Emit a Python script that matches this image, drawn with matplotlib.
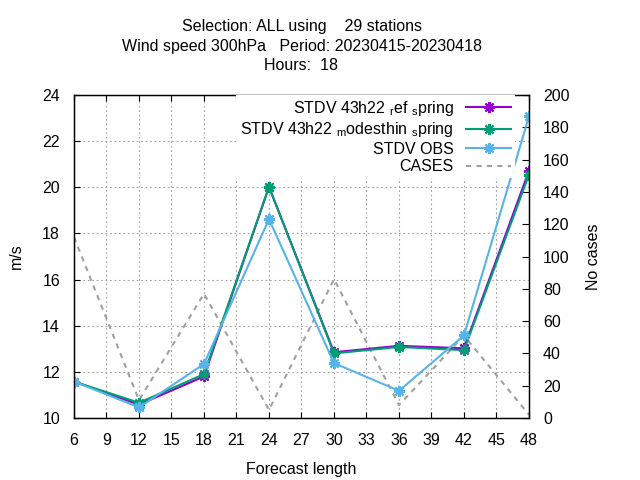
import matplotlib
matplotlib.use("Agg")
import matplotlib.pyplot as plt

plt.rcParams['font.family'] = ['Liberation Sans', 'DejaVu Sans']
plt.rcParams['mathtext.fontset'] = 'custom'
plt.rcParams['mathtext.rm'] = 'Liberation Sans'
plt.rcParams['mathtext.it'] = 'Liberation Sans'

lead = [6, 12, 18, 24, 30, 36, 42, 48]
ref_spring = [11.58, 10.58, 11.80, 20.02, 12.85, 13.13, 13.02, 20.72]
modes_spring = [11.58, 10.66, 11.90, 20.02, 12.80, 13.08, 12.94, 20.55]
obs = [11.58, 10.46, 12.34, 18.62, 12.38, 11.18, 13.58, 23.08]
cases = [112, 11, 77, 5, 86, 8, 51, 2]

xticks = list(range(6, 49, 3))
yticks = list(range(10, 25, 2))
y2ticks = list(range(0, 201, 20))

title_lines = ["Selection: ALL using    29 stations",
               "Wind speed 300hPa   Period: 20230415-20230418",
               "Hours:  18"]

fig = plt.figure(figsize=(6.4, 4.8), dpi=100)
ax = fig.add_axes([74/640, 62/480, 455/640, 323/480])
ax2 = ax.twinx()

fs = 11.5
l1, = ax.plot(lead, ref_spring, color='#9400D3', lw=1.5, marker=(8, 2, 0), ms=8, mew=1.5,
              label=r"STDV 43h22 $_{\rm r}$ef $_{\rm s}$pring")
l2, = ax.plot(lead, modes_spring, color='#009E73', lw=1.5, marker=(8, 2, 0), ms=8, mew=1.5,
              label=r"STDV 43h22 $_{\rm m}$odesthin $_{\rm s}$pring")
l3, = ax.plot(lead, obs, color='#56B4E9', lw=1.5, marker=(8, 2, 0), ms=8, mew=1.5,
              label="STDV OBS")
l4, = ax2.plot(lead, cases, color='#A0A0A0', lw=1.5, ls=(0, (2.5, 2.5)), label="CASES")

ax.set_xlim(6, 48)
ax.set_ylim(10, 24)
ax2.set_ylim(0, 200)
ax.set_xticks(xticks)
ax.set_yticks(yticks)
ax2.set_yticks(y2ticks)
ax.grid(True, color='#A0A0A0', ls=(0, (1.5, 2.5)), lw=0.8)
ax.tick_params(direction='in', labelsize=fs, top=True, length=4)
ax.tick_params(axis='x', pad=11)
ax.tick_params(axis='y', pad=10)
ax2.tick_params(direction='in', labelsize=fs, length=5, pad=10)
ax.set_xlabel("Forecast length", fontsize=fs, labelpad=10)
ax.set_ylabel("m/s", fontsize=fs, labelpad=13)
ax2.set_ylabel("No cases", fontsize=fs, labelpad=12)

xc = (74 + 529) / 2 / 640
for i, line in enumerate(title_lines):
    fig.text(xc, 1 - (27 + 19 * i) / 480, line, fontsize=fs, ha='center', va='center')

ax.set_zorder(ax2.get_zorder() + 1)
ax.patch.set_visible(False)

leg = ax.legend(handles=[l1, l2, l3, l4], loc='upper right',
                bbox_to_anchor=((515 - 74) / 455, 1.0), fontsize=fs,
                frameon=True, framealpha=1, edgecolor='none', facecolor='white',
                markerfirst=False, handlelength=2.8, borderaxespad=0.0,
                labelspacing=0.15, borderpad=0.25, handletextpad=0.8, fancybox=False)
for t in leg.get_texts():
    t.set_ha('right')
leg._legend_box.align = "right"
for sp in ax.spines.values():
    sp.set_linewidth(1.0)

fig.savefig("out.png", dpi=100)
